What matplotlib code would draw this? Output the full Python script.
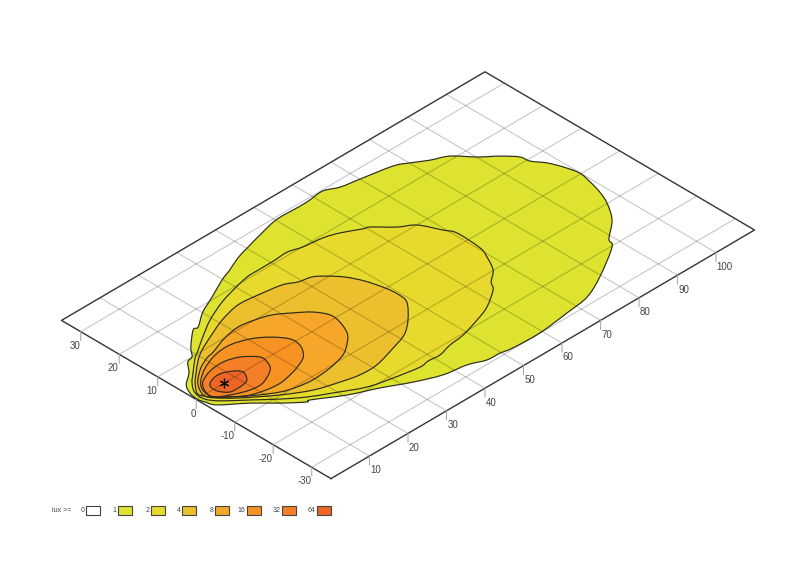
import matplotlib
matplotlib.use('Agg')
import numpy as np
from matplotlib import pyplot as plt
from matplotlib.patches import PathPatch
from matplotlib.path import Path
from matplotlib.transforms import Affine2D

plt.rcParams.update({'font.family': ['Liberation Sans', 'DejaVu Sans']})

# contours: distance along the road and sideways offset (m)
lux1_dist = [0.2,0.6,1.9,4.9,7.2,8.9,10.9,15.0,16.3,20.2,24.7,29.8,33.0,36.7,40.1,45.7,50.4,56.3,58.9,62.6,65.7,70.0,77.2,80.1,83.3,86.8,90.2,93.3,95.7,96.1,97.9,99.1,99.9,99.3,98.3,96.8,93.7,89.1,87.7,79.5,73.4,67.3,59.4,52.5,49.7,46.5,42.8,37.5,32.0,26.4,20.6,14.7,13.8,10.1,6.2,1.5,0.6]
lux1_lat = [0.0,2.2,4.5,6.8,9.4,10.0,12.3,15.8,15.8,18.5,20.6,23.1,24.3,25.9,26.9,28.4,29.4,29.3,29.4,29.7,28.3,27.5,26.1,24.6,22.6,20.9,17.1,14.4,11.6,9.4,6.8,3.8,0.3,-3.0,-6.5,-9.9,-14.3,-18.1,-20.3,-25.3,-28.1,-29.0,-29.9,-29.7,-29.2,-29.0,-27.5,-26.6,-24.3,-21.3,-18.6,-14.9,-14.9,-11.7,-7.8,-3.9,-1.7]
lux2_dist = [1.3,3.1,5.7,9.0,11.2,14.7,19.4,24.9,29.7,33.7,35.8,40.3,44.4,47.6,52.2,55.5,59.4,60.7,64.2,67.3,69.5,70.7,70.4,69.3,67.2,64.3,62.8,58.2,54.0,48.9,45.0,41.5,38.6,36.2,30.3,24.9,19.2,14.9,11.0,6.9,2.8,1.2]
lux2_lat = [1.6,4.2,6.5,9.3,10.7,13.0,15.8,18.2,19.6,20.5,20.6,20.6,20.8,19.9,19.3,18.2,16.1,15.6,12.1,9.9,5.5,3.0,-3.3,-6.2,-9.9,-12.3,-14.3,-17.3,-18.9,-20.4,-20.9,-21.8,-21.6,-21.9,-20.8,-19.4,-16.3,-13.8,-10.8,-7.1,-3.4,-1.0]
lux4_dist = [1.5,3.7,6.1,9.0,11.7,15.6,20.9,26.3,31.1,36.5,39.2,42.1,44.0,46.4,48.1,49.2,49.5,48.9,45.1,41.3,36.9,31.1,26.7,22.5,17.3,11.9,6.0,2.8,1.7]
lux4_lat = [1.3,4.0,6.1,8.5,10.2,12.0,14.2,15.5,15.1,14.2,12.8,12.1,10.6,7.8,4.3,0.2,-2.9,-5.8,-9.9,-12.7,-14.2,-15.8,-15.8,-14.8,-13.1,-9.9,-5.3,-2.1,-0.1]
lux8_dist = [1.9,2.9,4.5,7.6,10.6,12.7,17.3,21.5,25.2,28.5,31.6,34.5,36.1,35.8,34.3,32.1,28.9,24.3,19.5,15.8,12.5,7.8,4.3,2.3]
lux8_lat = [0.1,2.2,4.1,6.4,7.8,8.3,9.9,10.6,10.0,8.9,6.7,4.2,1.3,-1.5,-4.9,-7.1,-9.2,-10.4,-10.8,-10.3,-9.2,-6.2,-3.2,-1.2]
lux16_dist = [2.6,3.1,4.9,8.1,12.3,16.4,20.4,23.4,25.6,25.5,24.2,22.5,18.6,13.7,8.0,4.0]
lux16_lat = [-1.0,1.6,3.7,5.8,7.4,7.7,6.4,4.2,1.2,-1.4,-3.6,-5.0,-6.5,-7.3,-6.0,-2.9]
lux32_dist = [2.7,3.0,4.7,8.1,11.8,15.1,17.7,17.4,16.1,12.3,9.1,5.4]
lux32_lat = [-1.6,0.7,3.0,4.5,4.8,3.7,1.1,-1.2,-3.1,-5.0,-4.9,-3.4]
lux64_dist = [4.6,4.8,6.4,8.7,11.1,12.2,11.3,10.3,8.4,6.0]
lux64_lat = [-0.8,1.2,2.3,2.6,1.5,0.0,-1.8,-2.6,-2.9,-2.7]
star_dist = [7.3]
star_lat = [0.0]

dist_ticks = [10, 20, 30, 40, 50, 60, 70, 80, 90, 100]
lat_ticks = [-30, -20, -10, 0, 10, 20, 30]
dist_lim = (0, 110)
lat_lim = (-35, 35)

contours = [(lux1_dist, lux1_lat), (lux2_dist, lux2_lat), (lux4_dist, lux4_lat), (lux8_dist, lux8_lat),
            (lux16_dist, lux16_lat), (lux32_dist, lux32_lat), (lux64_dist, lux64_lat)]
levels = ['0', '1', '2', '4', '8', '16', '32', '64']
level_colors = ['#ffffff', '#dde32f', '#e8da2c', '#ecbf2e', '#f6a729', '#f79223', '#f47f26', '#ee6525']


def round_path(d, l):
    # closed bezier through the read points so the outline isn't polygonal
    p = np.column_stack([d, l])
    prev, nxt, nxt2 = np.roll(p, 1, axis=0), np.roll(p, -1, axis=0), np.roll(p, -2, axis=0)
    verts, codes = [p[0]], [Path.MOVETO]
    for i in range(len(p)):
        verts += [p[i] + (nxt[i] - prev[i]) / 6, nxt[i] - (nxt2[i] - p[i]) / 6, nxt[i]]
        codes += [Path.CURVE4] * 3
    return Path(verts, codes)


fig = plt.figure(figsize=(8, 5.66), dpi=100)
ax = fig.add_axes([0, 0, 1, 1])
ax.set_xlim(0, 800)
ax.set_ylim(566, 0)
ax.axis('off')

# oblique view of the ground plane
ground = Affine2D.from_values(3.85, -2.26, -3.85, -2.26, 196.25, 399.5) + ax.transData

for (d, l), c in zip(contours, level_colors[1:]):
    outline = round_path(d, l)
    ax.add_patch(PathPatch(outline, facecolor=c, edgecolor='none', transform=ground, zorder=1))
    ax.add_patch(PathPatch(outline, facecolor='none', edgecolor='#2b2b1c', lw=0.85, transform=ground, zorder=3))

# grid is see-through so it goes darker on the coloured areas
for d in dist_ticks:
    ax.plot([d, d], lat_lim, color='black', alpha=0.23, lw=0.75, transform=ground, zorder=2)
for l in lat_ticks:
    ax.plot(dist_lim, [l, l], color='black', alpha=0.23, lw=0.75, transform=ground, zorder=2)

ax.plot([dist_lim[0], dist_lim[1], dist_lim[1], dist_lim[0], dist_lim[0]],
        [lat_lim[0], lat_lim[0], lat_lim[1], lat_lim[1], lat_lim[0]],
        color='#333333', lw=1.0, transform=ground, zorder=3)

ax.plot(star_dist, star_lat, marker=(6, 2, 0), ms=7, mew=0.9, color='#111111', ls='none', transform=ground, zorder=4)

# ticks hang straight down from the frame
tick_style = dict(arrowstyle='-', color='#aaaaaa', lw=0.8, shrinkA=0, shrinkB=0)
for d in dist_ticks:
    ax.annotate('', xy=(d, lat_lim[0]), xycoords=ground, xytext=(0, -6.5), textcoords='offset points', arrowprops=tick_style)
    ax.annotate(str(d), xy=(d, lat_lim[0]), xycoords=ground, xytext=(0.5, -10.4), textcoords='offset points',
                ha='left', va='center', fontsize=7, color='#444444')
for l in lat_ticks:
    ax.annotate('', xy=(dist_lim[0], l), xycoords=ground, xytext=(0, -6.5), textcoords='offset points', arrowprops=tick_style)
    ax.annotate(str(l), xy=(dist_lim[0], l), xycoords=ground, xytext=(-0.4, -10.2), textcoords='offset points',
                ha='right', va='center', fontsize=7, color='#444444')

# legend strip
box_left = [86, 118, 151, 182, 215, 247, 282, 317]
ax.text(52, 511, 'lux >=', fontsize=5, color='#444444', va='center', ha='left')
for x0, lev, c in zip(box_left, levels, level_colors):
    ax.add_patch(plt.Rectangle((x0, 506), 14, 8.5, facecolor=c, edgecolor='#444444', lw=0.8))
    ax.text(x0 - 1.5, 511, lev, fontsize=5, color='#444444', va='center', ha='right')

plt.savefig('out.png', dpi=100)
